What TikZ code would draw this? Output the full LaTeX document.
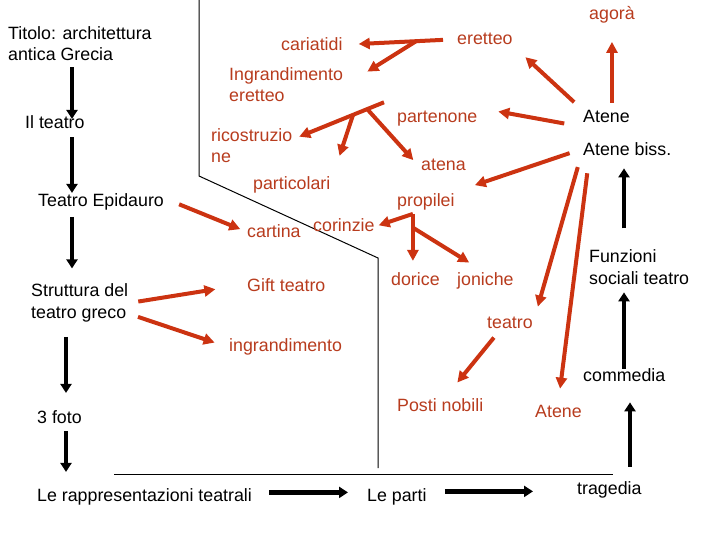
\documentclass[tikz,border=0pt]{standalone}
\usepackage{fontspec}
\setmainfont{Liberation Sans}
\usetikzlibrary{arrows.meta,calc}

\definecolor{rossofreccia}{RGB}{204,51,17}
\definecolor{rossotesto}{RGB}{184,60,30}

\begin{document}
\begin{tikzpicture}[
        x=1pt, y=-1pt,
        every node/.style={
            anchor=base west,
            inner sep=3pt,
            font=\fontsize{17.8}{21.5}\selectfont
        },
        testorosso/.style={text=rossotesto},
        frecciaNera/.style={line width=4.5pt, -{Triangle[length=9pt,width=11pt]}},
        frecciaRossa/.style={draw=rossofreccia, line width=4pt, -{Triangle[length=11pt,width=11pt]}},
        sottile/.style={line width=1pt}
    ]

    \fill[white] (0,0) rectangle (720,540);
    \useasboundingbox (0,0) rectangle (720,540);

    % Linee di separazione
    \draw[sottile] (199,0) -- (199,176) -- (378,258) -- (378,468);
    \draw[sottile] (114,474) -- (613,474);

    % Nodi neri (per i nodi su due righe: base dell'ultima riga)
    \node[align=left] (titolo)    at (5,61)    {Titolo: architettura\\antica Grecia};
    \node             (ilteatro)  at (22,129)  {Il teatro};
    \node             (epidauro)  at (35,207)  {Teatro Epidauro};
    \node[align=left] (struttura) at (28,318)  {Struttura del\\teatro greco};
    \node             (foto)      at (34,423)  {3 foto};
    \node             (rappr)     at (34,501)  {Le rappresentazioni teatrali};
    \node             (parti)     at (364,501) {Le parti};
    \node             (tragedia)  at (574,494) {tragedia};
    \node             (commedia)  at (580,381) {commedia};
    \node[align=left] (funzioni)  at (586,284) {Funzioni\\sociali teatro};
    \node             (ateneb)    at (580,156) {Atene biss.};
    \node             (atene)     at (580,123) {Atene};

    % Nodi rossi
    \node[testorosso] (agora)       at (586,20)  {agorà};
    \node[testorosso] (eretteo)     at (454,45)  {eretteo};
    \node[testorosso] (cariatidi)   at (278,51)  {cariatidi};
    \node[testorosso, align=left] (ingrE) at (226,102) {Ingrandimento\\eretteo};
    \node[testorosso] (partenone)   at (394,123) {partenone};
    \node[testorosso, align=left] (ricostr) at (208,163) {ricostruzio\\ne};
    \node[testorosso] (atena)       at (418,171) {atena};
    \node[testorosso] (particolari) at (250,190) {particolari};
    \node[testorosso] (propilei)    at (394,207) {propilei};
    \node[testorosso] (corinzie)    at (310,232) {corinzie};
    \node[testorosso] (cartina)     at (244,237) {cartina};
    \node[testorosso] (dorice)      at (388,285) {dorice};
    \node[testorosso] (joniche)     at (454,285) {joniche};
    \node[testorosso] (gift)        at (244,291) {Gift teatro};
    \node[testorosso] (ingrand)     at (226,351) {ingrandimento};
    \node[testorosso] (teatroR)     at (484,328) {teatro};
    \node[testorosso] (posti)       at (394,411) {Posti nobili};
    \node[testorosso] (ateneR)      at (532,417) {Atene};

    % Frecce nere
    \coordinate (asse1) at (72,0);
    \coordinate (asse2) at (66,0);
    \coordinate (asse3) at (630,0);
    \coordinate (asse4) at (624,0);
    \draw[frecciaNera, shorten <=3pt,  shorten >=-6pt] (titolo.south -| asse1)    -- (ilteatro.north -| asse1);
    \draw[frecciaNera, shorten <=5pt,  shorten >=-2pt] (ilteatro.south -| asse1)  -- (epidauro.north -| asse1);
    \draw[frecciaNera, shorten <=3pt,  shorten >=12pt] (epidauro.south -| asse1)  -- (struttura.north -| asse1);
    \draw[frecciaNera, shorten <=12pt, shorten >=14pt] (struttura.south -| asse2) -- (foto.north -| asse2);
    \draw[frecciaNera, shorten <=5pt,  shorten >=13pt] (foto.south -| asse2)      -- (rappr.north -| asse2);
    \draw[frecciaNera, shorten <=14pt, shorten >=16pt] ([yshift=4pt]rappr.east)   -- ([yshift=4pt]rappr.east -| parti.west);
    \draw[frecciaNera, shorten <=15pt, shorten >=41pt] ([yshift=5pt]parti.east)   -- ([yshift=5pt]parti.east -| tragedia.west);
    \draw[frecciaNera, shorten <=11pt, shorten >=18pt] (tragedia.north -| asse3)  -- (commedia.south -| asse3);
    \draw[frecciaNera, shorten <=-4pt, shorten >=5pt]  (commedia.north -| asse4)  -- (funzioni.south -| asse4);
    \draw[frecciaNera, shorten <=18pt, shorten >=9pt]  (funzioni.north -| asse4)  -- (ateneb.south -| asse4);

    % Frecce rosse
    \draw[frecciaRossa, shorten <=5pt,  shorten >=15pt] (atene.north -| agora) -- (agora.south);
    \draw[frecciaRossa, shorten <=8pt,  shorten >=13pt] (atene.north west) -- (eretteo.south east);
    \draw[frecciaRossa, shorten <=16pt, shorten >=18pt] (atene.south west) -- (partenone.north east);
    \draw[frecciaRossa, shorten <=11pt, shorten >=18pt] (ateneb.west) -- (propilei.north east);
    \draw[frecciaRossa, shorten <=8pt,  shorten >=7pt]  (ateneb.south west) -- (teatroR.north east);
    \draw[frecciaRossa, shorten <=14pt, shorten >=13pt] ([xshift=9pt]ateneb.south west) -- (ateneR.north);
    \draw[frecciaRossa, shorten <=8pt,  shorten >=16pt] ([xshift=-11pt]teatroR.south) -- ([xshift=7pt]posti.north);

    \draw[frecciaRossa, shorten <=11pt, shorten >=13pt] (eretteo.west) -- (cariatidi.east);
    \coordinate (bivioE) at ($(eretteo.west)!0.35!(cariatidi.east)$);
    \draw[frecciaRossa, shorten >=25pt] (bivioE) -- (ingrE.east);

    \coordinate (radiceP) at ([shift={(-10pt,6pt)}]partenone.north west);
    \coordinate (bivioP1) at ($(radiceP)!0.19!(ricostr.10)$);
    \coordinate (bivioP2) at ($(radiceP)!0.35!(ricostr.10)$);
    \draw[frecciaRossa, shorten >=4pt]  (radiceP) -- (ricostr.10);
    \draw[frecciaRossa, shorten >=19pt] (bivioP2) -- (particolari.north east);
    \draw[frecciaRossa, shorten >=7pt]  (bivioP1) -- (atena.west);

    \coordinate (radiceL) at ([xshift=-13pt]propilei.south);
    \coordinate (bivioL)  at ($(radiceL)!0.25!(radiceL |- dorice.north)$);
    \draw[frecciaRossa, shorten >=1pt]  (radiceL) -- (corinzie.east);
    \draw[frecciaRossa, shorten >=8pt]  (radiceL) -- (radiceL |- dorice.north);
    \draw[frecciaRossa, shorten >=12pt] (bivioL) -- ([xshift=-6pt]joniche.north);

    \draw[frecciaRossa, shorten <=13pt, shorten >=4pt]  ([yshift=3pt]epidauro.east) -- (cartina.west);
    \draw[frecciaRossa, shorten <=7pt,  shorten >=29pt] (struttura.east) -- (gift.west);
    \draw[frecciaRossa, shorten <=7pt,  shorten >=12pt] ([yshift=-12pt]struttura.east) -- (ingrand.west);

\end{tikzpicture}
\end{document}
